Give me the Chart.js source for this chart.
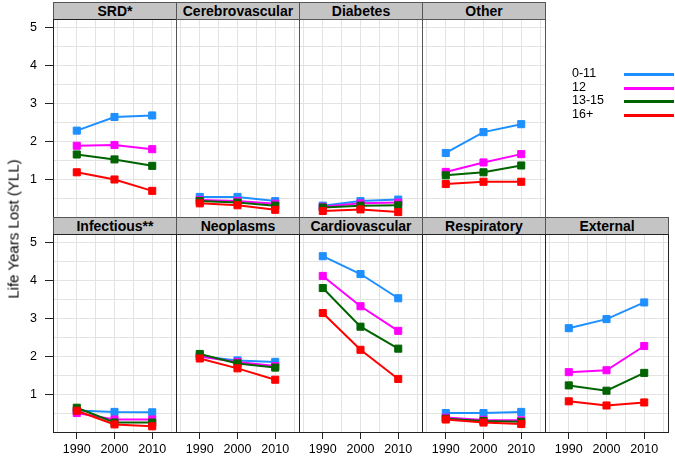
<!DOCTYPE html>
<html>
<head>
<meta charset="utf-8">
<script src="https://cdn.jsdelivr.net/npm/chart.js@4"></script>
<style>
  body { margin: 0; background: #fff; font-family: "Liberation Sans", Arial, sans-serif; }
  #wrap { position: relative; width: 675px; height: 460px; overflow: hidden; background: #fff; }
  #wrap canvas { position: absolute; }
  .strip { position: absolute; box-sizing: border-box; height: 18px; background: #c4c4c4;
           border: 1px solid #555; font-weight: bold; font-size: 14px; line-height: 16px;
           text-align: center; color: #000; white-space: nowrap; }
  .box { position: absolute; box-sizing: border-box; border: 1px solid #555; pointer-events: none; }
  .ytitle { position: absolute; left: 13px; top: 229px; font-size: 15px; white-space: nowrap; color: #000;
            transform: translate(-50%, -50%) rotate(-90deg); }
  .leg { position: absolute; font-size: 12.5px; line-height: 13.5px; color: #000; }
  .legline { position: absolute; height: 3px; width: 50px; }
</style>
</head>
<body>
<div id="wrap"></div>
<script>
// x values and series names
const years = [1990, 2000, 2010];
const groups = ["0-11", "12", "13-15", "16+"];
const colors = ["#1e8fff", "#ff00ff", "#006400", "#ff0000"];

// one array per panel: rows are 0-11, 12, 13-15, 16+
const srd = [[2.28, 2.64, 2.68], [1.88, 1.90, 1.79], [1.65, 1.52, 1.35], [1.18, 0.99, 0.69]];
const cerebro = [[0.53, 0.53, 0.42], [0.45, 0.42, 0.35], [0.42, 0.38, 0.30], [0.36, 0.31, 0.19]];
const diabetes = [[0.30, 0.42, 0.46], [0.27, 0.36, 0.38], [0.25, 0.30, 0.31], [0.16, 0.20, 0.13]];
const other = [[1.69, 2.24, 2.45], [1.19, 1.44, 1.66], [1.10, 1.18, 1.36], [0.87, 0.93, 0.93]];
const infectious = [[0.57, 0.53, 0.52], [0.50, 0.33, 0.33], [0.64, 0.25, 0.25], [0.56, 0.20, 0.15]];
const neoplasms = [[2.00, 1.89, 1.85], [1.99, 1.85, 1.74], [2.06, 1.81, 1.70], [1.94, 1.68, 1.38]];
const cardio = [[4.64, 4.17, 3.53], [4.12, 3.32, 2.67], [3.80, 2.78, 2.20], [3.14, 2.17, 1.40]];
const respiratory = [[0.50, 0.50, 0.53], [0.38, 0.32, 0.31], [0.35, 0.29, 0.27], [0.33, 0.25, 0.21]];
const external = [[2.74, 2.98, 3.42], [1.58, 1.63, 2.27], [1.23, 1.09, 1.56], [0.81, 0.70, 0.78]];

const panels = [
  { name: "SRD*", data: srd, row: 0, col: 0 },
  { name: "Cerebrovascular", data: cerebro, row: 0, col: 1 },
  { name: "Diabetes", data: diabetes, row: 0, col: 2 },
  { name: "Other", data: other, row: 0, col: 3 },
  { name: "Infectious**", data: infectious, row: 1, col: 0 },
  { name: "Neoplasms", data: neoplasms, row: 1, col: 1 },
  { name: "Cardiovascular", data: cardio, row: 1, col: 2 },
  { name: "Respiratory", data: respiratory, row: 1, col: 3 },
  { name: "External", data: external, row: 1, col: 4 },
];

const xGrid = [1985, 1990, 1995, 2000, 2005, 2010, 2015];
const yGrid = [0.5, 1, 1.5, 2, 2.5, 3, 3.5, 4, 4.5, 5];

const wrap = document.getElementById("wrap");
const LEFT = 53, PW = 123, PH = 197, STRIP = 18;
const rowTop = [20, 235];
const tickFont = { family: "'Liberation Sans', Arial, sans-serif", size: 12.5 };

panels.forEach(function (p) {
  const plotL = LEFT + p.col * PW;
  const plotT = rowTop[p.row];
  const hasY = p.col === 0;
  const hasX = p.row === 1;

  const cv = document.createElement("canvas");
  const w = PW + (hasY ? LEFT : 0);
  const h = PH + (hasX ? 28 : 0);
  cv.width = w; cv.height = h;
  cv.style.width = w + "px"; cv.style.height = h + "px";
  cv.style.left = (hasY ? 0 : plotL) + "px";
  cv.style.top = plotT + "px";
  wrap.appendChild(cv);

  // strip + panel border
  const s = document.createElement("div");
  s.className = "strip";
  s.style.left = plotL + "px"; s.style.top = (plotT - STRIP) + "px";
  s.style.width = (PW + 1) + "px";
  s.textContent = p.name;
  wrap.appendChild(s);
  const b = document.createElement("div");
  b.className = "box";
  b.style.left = plotL + "px"; b.style.top = (plotT - 1) + "px";
  b.style.width = (PW + 1) + "px"; b.style.height = (PH + 2) + "px";
  if (hasY || hasX) b.style.borderColor = "#222";
  wrap.appendChild(b);

  new Chart(cv, {
    type: "line",
    data: {
      datasets: p.data.map(function (vals, i) {
        return {
          label: groups[i],
          data: years.map(function (yr, k) { return { x: yr, y: vals[k] }; }),
          borderColor: colors[i],
          backgroundColor: colors[i],
          borderWidth: 2,
          pointStyle: "rect",
          pointRadius: 5,
          pointBorderWidth: 1,
          order: 3 - i,
        };
      }),
    },
    options: {
      responsive: false,
      animation: false,
      devicePixelRatio: 1,
      layout: { padding: 0, autoPadding: false },
      plugins: { legend: { display: false }, tooltip: { enabled: false }, title: { display: false } },
      scales: {
        x: {
          type: "linear",
          min: 1983.7,
          max: 2016.3,
          afterBuildTicks: function (sc) { sc.ticks = xGrid.map(function (v) { return { value: v }; }); },
          afterFit: function (sc) {
            sc.height = hasX ? 28 : 0;
            sc.paddingLeft = 0; sc.paddingRight = 0; sc.paddingTop = 0; sc.paddingBottom = 0;
          },
          border: { display: false },
          grid: {
            color: "#e3e3e3",
            drawTicks: hasX,
            tickLength: 7,
            tickColor: function (ctx) { return ctx.tick && ctx.tick.value % 10 === 0 ? "#222" : "rgba(0,0,0,0)"; },
          },
          ticks: {
            display: hasX,
            autoSkip: false,
            maxRotation: 0,
            padding: 3,
            color: "#000",
            font: tickFont,
            callback: function (v) { return v % 10 === 0 ? String(v) : ""; },
          },
        },
        y: {
          min: 0,
          max: 5.2,
          afterBuildTicks: function (sc) { sc.ticks = yGrid.map(function (v) { return { value: v }; }); },
          afterFit: function (sc) {
            sc.width = hasY ? LEFT : 0;
            sc.paddingLeft = 0; sc.paddingRight = 0; sc.paddingTop = 0; sc.paddingBottom = 0;
          },
          border: { display: false },
          grid: {
            color: "#e3e3e3",
            drawTicks: hasY,
            tickLength: 8,
            tickColor: function (ctx) { return ctx.tick && Number.isInteger(ctx.tick.value) ? "#222" : "rgba(0,0,0,0)"; },
          },
          ticks: {
            display: hasY,
            padding: 8,
            color: "#000",
            font: tickFont,
            callback: function (v) { return Number.isInteger(v) ? String(v) : ""; },
          },
        },
      },
    },
  });
});

// y axis title
const yt = document.createElement("div");
yt.className = "ytitle";
yt.textContent = "Life Years Lost (YLL)";
wrap.appendChild(yt);

// legend
groups.forEach(function (g, i) {
  const t = document.createElement("div");
  t.className = "leg";
  t.style.left = "572px";
  t.style.top = (67 + i * 13.5) + "px";
  t.textContent = g;
  wrap.appendChild(t);
  const l = document.createElement("div");
  l.className = "legline";
  l.style.left = "624px";
  l.style.top = (73 + i * 13.5) + "px";
  l.style.background = colors[i];
  wrap.appendChild(l);
});
</script>
</body>
</html>
